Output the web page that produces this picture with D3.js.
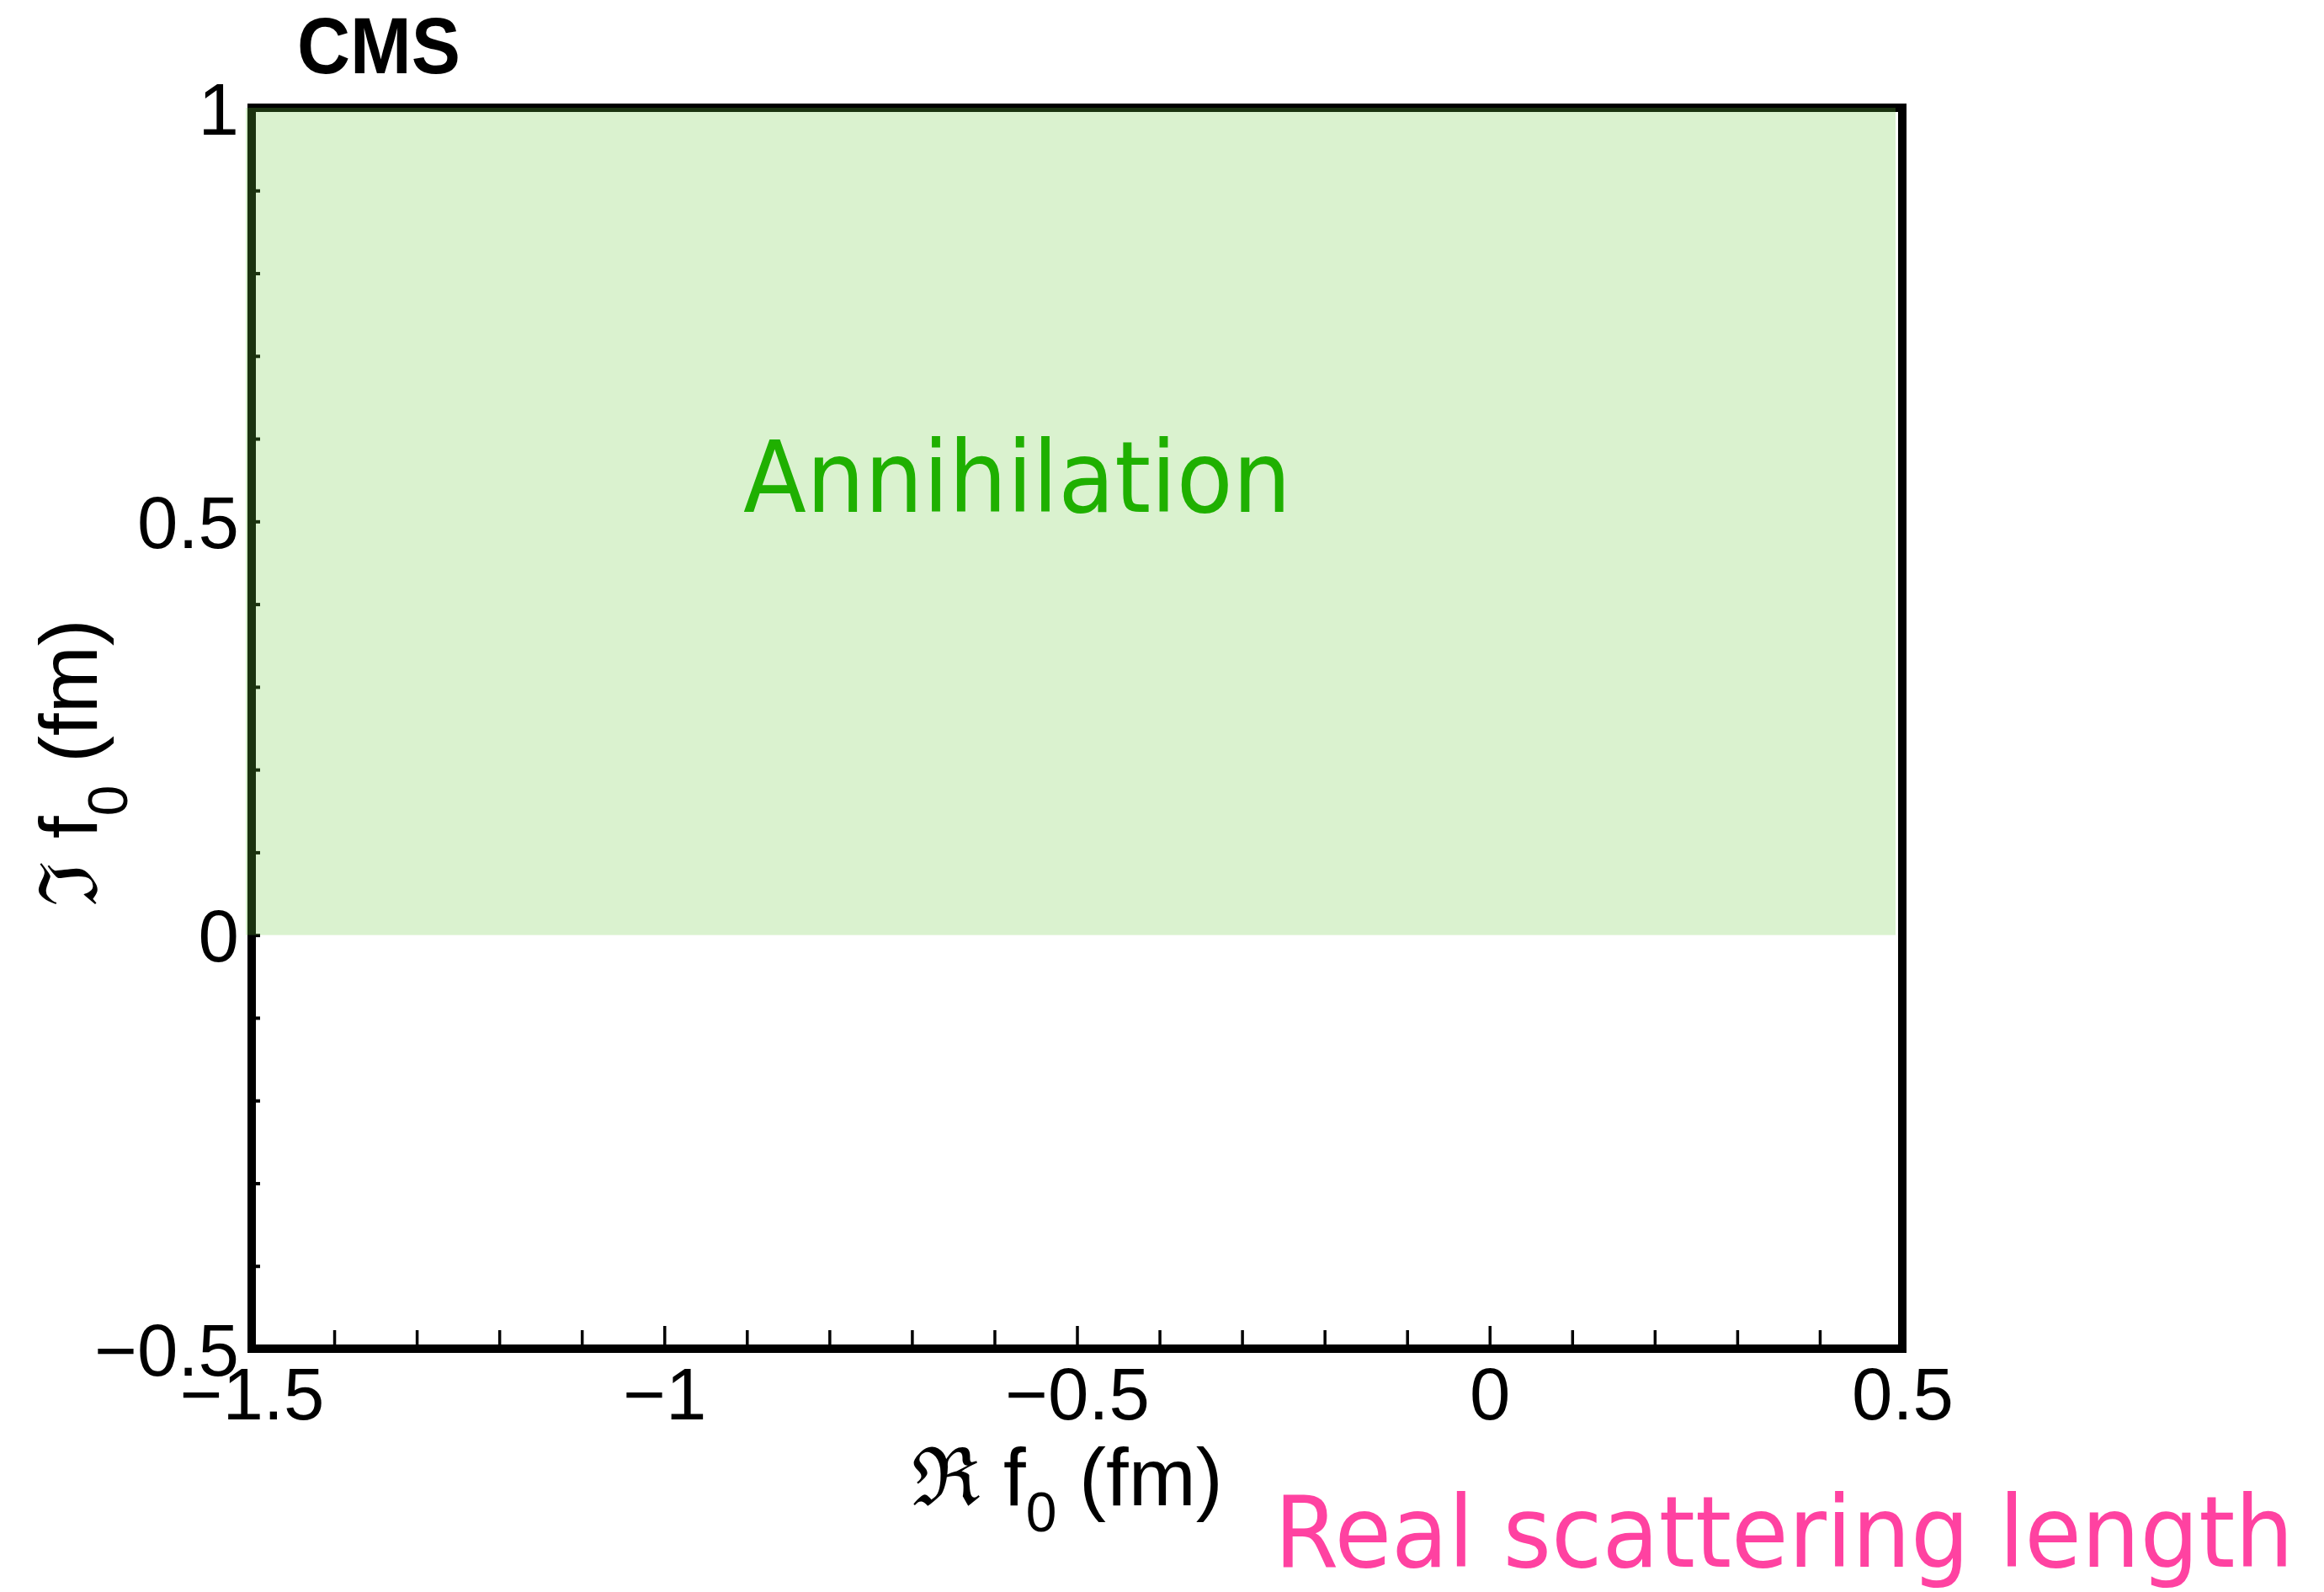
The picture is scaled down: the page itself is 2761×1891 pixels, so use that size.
<!DOCTYPE html>
<html>
<head>
<meta charset="utf-8">
<script src="https://cdn.jsdelivr.net/npm/d3@7"></script>
<style>
  html, body { margin: 0; padding: 0; background: #ffffff; }
  svg { display: block; }
</style>
</head>
<body>
<script>
// Axis ranges and ticks
const xDomain = [-1.5, 0.5];
const yDomain = [-0.5, 1];
const xMajorTicks = [-1.5, -1, -0.5, 0, 0.5];
const xTickLabels = ["\u22121.5", "\u22121", "\u22120.5", "0", "0.5"];
const yMajorTicks = [-0.5, 0, 0.5, 1];
const yTickLabels = ["\u22120.5", "0", "0.5", "1"];
const minorStep = 0.1;

// Shaded annihilation region (Im f0 > 0)
const regionX = [-1.5, 0.5];
const regionY = [0, 1];
const regionLabel = "Annihilation";
const footerLabel = "Real scattering length";
const experimentLabel = "CMS";

const W = 2761, H = 1891;
const margin = { left: 299, right: W - 2260, top: 128, bottom: H - 1602 };
const frameW = 10;
const tickFont = "'Liberation Sans', Arial, Helvetica, sans-serif";
const handFont = "'DejaVu Sans', 'Noto Sans', sans-serif";

const svg = d3.select("body").append("svg")
  .attr("width", W).attr("height", H);

const x = d3.scaleLinear().domain(xDomain).range([margin.left, W - margin.right]);
const y = d3.scaleLinear().domain(yDomain).range([H - margin.bottom, margin.top]);

const minorOf = (dom) => {
  const out = [];
  const n0 = Math.round(dom[0] / minorStep), n1 = Math.round(dom[1] / minorStep);
  for (let i = n0; i <= n1; i++) {
    const v = +(i * minorStep).toFixed(10);
    if (Math.abs(v * 2 - Math.round(v * 2)) > 1e-9) out.push(v);
  }
  return out;
};

// Frame
svg.append("rect")
  .attr("x", x(xDomain[0])).attr("y", y(yDomain[1]))
  .attr("width", x(xDomain[1]) - x(xDomain[0]))
  .attr("height", y(yDomain[0]) - y(yDomain[1]))
  .attr("fill", "none").attr("stroke", "#000").attr("stroke-width", frameW);

// X axis: ticks pointing inward from the bottom edge
const xAxis = svg.append("g")
  .attr("transform", `translate(0,${y(yDomain[0])})`)
  .call(d3.axisBottom(x).tickValues(xMajorTicks)
    .tickFormat((d, i) => xTickLabels[i])
    .tickSize(-27).tickPadding(22));
xAxis.select(".domain").remove();
xAxis.selectAll(".tick line").attr("stroke-width", 3.5);
xAxis.selectAll(".tick text")
  .attr("font-family", tickFont).attr("font-size", 87).attr("fill", "#000");

const xMinor = svg.append("g")
  .attr("transform", `translate(0,${y(yDomain[0])})`)
  .call(d3.axisBottom(x).tickValues(minorOf(xDomain)).tickFormat("").tickSize(-22));
xMinor.select(".domain").remove();
xMinor.selectAll(".tick line").attr("stroke-width", 3.5);

// Y axis: short inward ticks on the left edge
const yAxis = svg.append("g")
  .attr("transform", `translate(${x(xDomain[0])},0)`)
  .call(d3.axisLeft(y).tickValues(yMajorTicks)
    .tickFormat((d, i) => yTickLabels[i])
    .tickSize(-10).tickPadding(15));
yAxis.select(".domain").remove();
yAxis.selectAll(".tick line").attr("stroke-width", 4);
yAxis.selectAll(".tick text")
  .attr("font-family", tickFont).attr("font-size", 87).attr("fill", "#000")
  .attr("dy", "0.36em");

const yMinor = svg.append("g")
  .attr("transform", `translate(${x(xDomain[0])},0)`)
  .call(d3.axisLeft(y).tickValues(minorOf(yDomain)).tickFormat("").tickSize(-10));
yMinor.select(".domain").remove();
yMinor.selectAll(".tick line").attr("stroke-width", 4);

// Translucent green band over the frame
svg.append("rect")
  .attr("x", x(regionX[0]) - frameW / 2 - 2)
  .attr("y", y(regionY[1]))
  .attr("width", x(regionX[1]) - x(regionX[0]) - 1)
  .attr("height", y(regionY[0]) - y(regionY[1]))
  .attr("fill", "rgb(108,204,64)").attr("fill-opacity", 0.25);

// Experiment label
svg.append("text")
  .attr("x", 353).attr("y", 87)
  .attr("font-family", tickFont).attr("font-weight", "bold")
  .attr("font-size", 94).attr("textLength", 194).attr("lengthAdjust", "spacingAndGlyphs")
  .text(experimentLabel);

// Axis titles
const titleSize = 96, subSize = 66;
const xTitle = svg.append("text")
  .attr("x", 1268).attr("y", 1788)
  .attr("text-anchor", "middle")
  .attr("font-family", tickFont).attr("font-size", titleSize).attr("fill", "#000");
xTitle.append("tspan").attr("font-family", "'DejaVu Serif', serif").text("\u211C");
xTitle.append("tspan").text(" f");
xTitle.append("tspan").attr("font-size", subSize).attr("dy", 31).text("0");
xTitle.append("tspan").attr("dy", -31).text(" (fm)");

const yTitle = svg.append("text")
  .attr("transform", "translate(115,906) rotate(-90)")
  .attr("text-anchor", "middle")
  .attr("font-family", tickFont).attr("font-size", titleSize).attr("fill", "#000");
yTitle.append("tspan").attr("font-family", "'DejaVu Serif', serif").text("\u2111");
yTitle.append("tspan").text(" f");
yTitle.append("tspan").attr("font-size", subSize).attr("dy", 36).text("0");
yTitle.append("tspan").attr("dy", -36).text(" (fm)");

// Region annotation
svg.append("text")
  .attr("x", 883).attr("y", 608)
  .attr("font-family", handFont).attr("font-size", 118)
  .attr("fill", "#1fb000")
  .attr("textLength", 651).attr("lengthAdjust", "spacingAndGlyphs")
  .text(regionLabel);

// Footer annotation
svg.append("text")
  .attr("x", 1514).attr("y", 1861)
  .attr("font-family", handFont).attr("font-size", 118)
  .attr("fill", "#ff42a1")
  .attr("textLength", 1211).attr("lengthAdjust", "spacingAndGlyphs")
  .text(footerLabel);
</script>
</body>
</html>
